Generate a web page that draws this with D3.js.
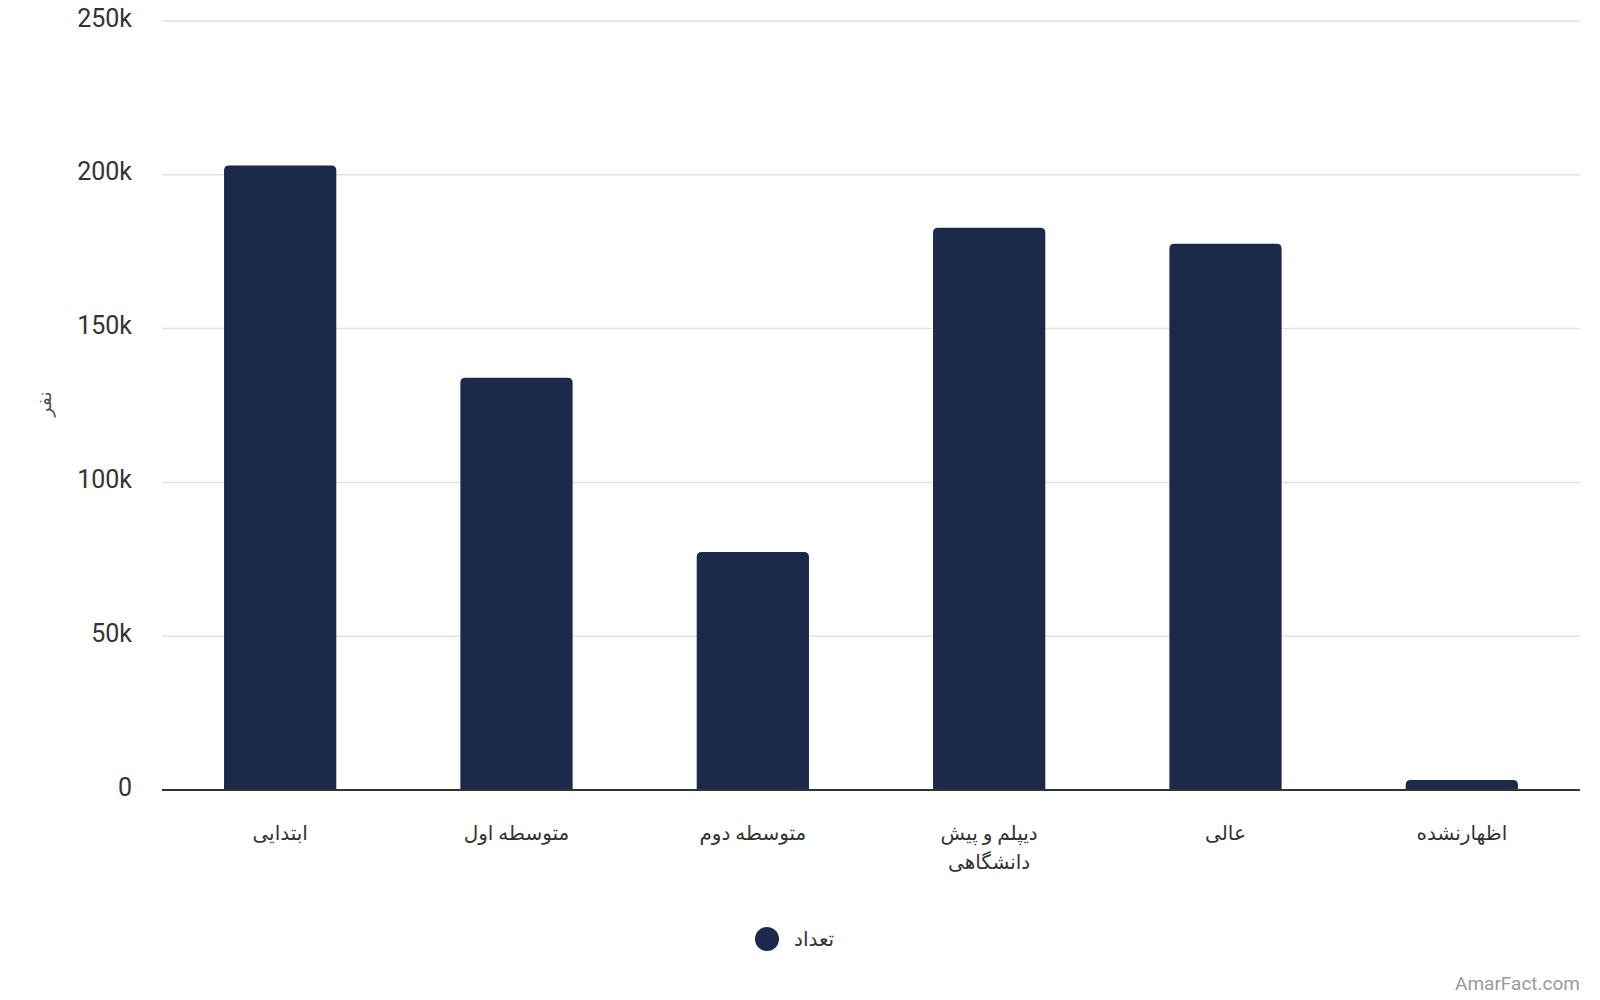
<!DOCTYPE html>
<html lang="fa">

<head>
  <meta charset="UTF-8">
  <title>education chart</title>
  <script src="https://d3js.org/d3.v7.min.js"></script>
  <style>
    body { margin: 0; background: #fff; }
    text { font-family: Roboto, "DejaVu Sans", sans-serif; }
  </style>
</head>

<body>
  <svg id="chart" width="1600" height="1000"></svg>
  <script>
    // data
    const categories = ['ابتدایی', 'متوسطه اول', 'متوسطه دوم', 'دیپلم و پیش دانشگاهی', 'عالی', 'اظهارنشده'];
    const labelLines = [['ابتدایی'], ['متوسطه اول'], ['متوسطه دوم'], ['دیپلم و پیش', 'دانشگاهی'], ['عالی'], ['اظهارنشده']];
    const values = [203000, 134000, 77400, 182800, 177600, 3250];
    const yTicks = [0, 50000, 100000, 150000, 200000, 250000];
    const seriesName = 'تعداد';
    const yTitle = 'نفر';

    const svg = d3.select('svg#chart');
    const margins = { top: 21, right: 20, bottom: 210, left: 162 };
    const chartWidth = 1600 - margins.left - margins.right;
    const chartHeight = 1000 - margins.top - margins.bottom;
    const barColor = '#1b2a4b';

    const chartArea = svg.append('g')
      .attr('transform', `translate(${margins.left},${margins.top})`);

    const x = d3.scaleBand().domain(categories).range([0, chartWidth]).paddingInner(0.525).paddingOuter(0.2625);
    const y = d3.scaleLinear().domain([0, 250000]).range([chartHeight, 0]);

    // gridlines
    chartArea.selectAll('line.grid')
      .data(yTicks.filter(d => d > 0))
      .join('line')
      .attr('class', 'grid')
      .attr('x1', 0).attr('x2', chartWidth)
      .attr('y1', d => y(d)).attr('y2', d => y(d))
      .attr('stroke', '#e2e2e2')
      .style('stroke-width', '1.5');

    // y tick labels
    chartArea.selectAll('text.ytick')
      .data(yTicks)
      .join('text')
      .attr('class', 'ytick')
      .attr('x', -30)
      .attr('y', d => y(d))
      .attr('dy', '0.22em')
      .attr('text-anchor', 'end')
      .attr('fill', '#333')
      .style('font-size', '25px')
      .text(d => d === 0 ? '0' : (d / 1000) + 'k');

    // bars with rounded top corners
    const r = 5;
    chartArea.selectAll('path.bar')
      .data(values)
      .join('path')
      .attr('class', 'bar')
      .attr('fill', barColor)
      .attr('d', (d, i) => {
        const x0 = x(categories[i]), w = x.bandwidth();
        const top = y(d), bottom = y(0);
        const rr = Math.min(r, (bottom - top) / 2);
        return `M${x0},${bottom} V${top + rr} Q${x0},${top} ${x0 + rr},${top} H${x0 + w - rr} Q${x0 + w},${top} ${x0 + w},${top + rr} V${bottom} Z`;
      });

    // baseline
    chartArea.append('line')
      .attr('x1', 0).attr('x2', chartWidth)
      .attr('y1', y(0)).attr('y2', y(0))
      .attr('stroke', '#333')
      .style('stroke-width', '2');

    // category labels
    labelLines.forEach((lines, i) => {
      const t = chartArea.append('text')
        .attr('x', x(categories[i]) + x.bandwidth() / 2)
        .attr('y', chartHeight + 50)
        .attr('text-anchor', 'middle')
        .attr('fill', '#333')
        .style('font-size', '20px');
      lines.forEach((l, j) => {
        t.append('tspan')
          .attr('x', x(categories[i]) + x.bandwidth() / 2)
          .attr('dy', j === 0 ? 0 : 29)
          .text(l);
      });
    });

    // y axis title
    svg.append('text')
      .attr('transform', 'translate(44,404) rotate(-90)')
      .attr('text-anchor', 'middle')
      .attr('dy', '0.35em')
      .attr('fill', '#555')
      .style('font-size', '19px')
      .text(yTitle);

    // legend
    const legend = svg.append('g').attr('transform', 'translate(767,939)');
    legend.append('circle').attr('r', 12).attr('fill', barColor);
    legend.append('text')
      .attr('x', 27)
      .attr('dy', '0.35em')
      .attr('fill', '#333')
      .style('font-size', '20px')
      .text(seriesName);

    // watermark
    svg.append('text')
      .attr('x', 1580)
      .attr('y', 990)
      .attr('text-anchor', 'end')
      .attr('fill', '#9a9a9a')
      .style('font-size', '19px')
      .text('AmarFact.com');
  </script>
</body>

</html>
